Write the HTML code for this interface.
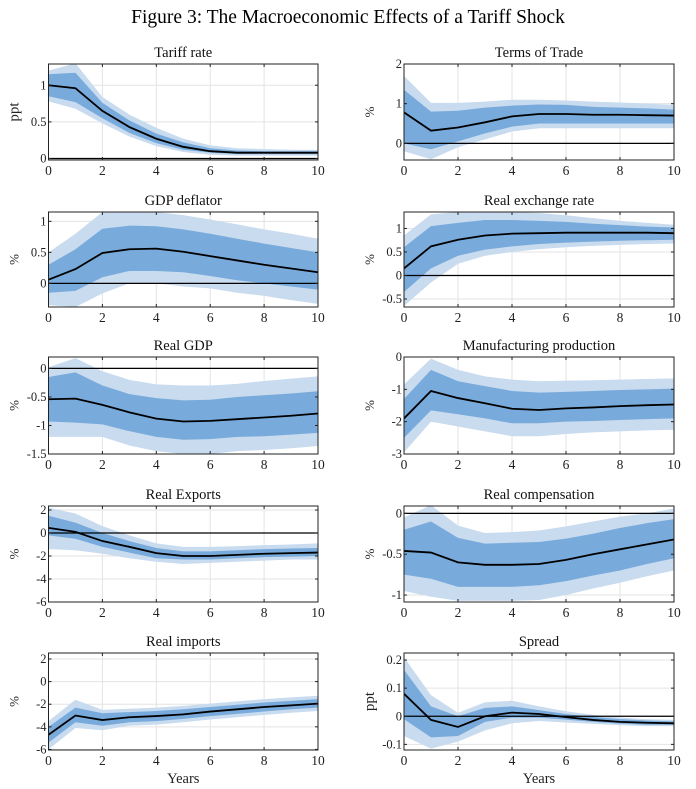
<!DOCTYPE html>
<html><head><meta charset="utf-8"><style>
body{margin:0;background:#fff;width:696px;height:789px;overflow:hidden}
svg{display:block;font-family:"Liberation Serif",serif}
</style></head><body>
<svg id="fig" width="696" height="789">
<text x="348" y="23" text-anchor="middle" font-size="19.5" fill="#000">Figure 3: The Macroeconomic Effects of a Tariff Shock</text>
</svg>
<script>
const years=[0,1,2,3,4,5,6,7,8,9,10];
const titles=["Tariff rate","Terms of Trade","GDP deflator","Real exchange rate","Real GDP","Manufacturing production","Real Exports","Real compensation","Real imports","Spread"];
const units=["ppt","%","%","%","%","%","%","%","%","ppt"];
const showZero=[true,true,true,true,true,true,true,true,false,true];
const yRanges=[[-0.02,1.29],[-0.42,2],[-0.38,1.15],[-0.67,1.35],[-1.5,0.2],[-3,0],[-6,2.35],[-1.085,0.09],[-6.05,2.53],[-0.12,0.225]];
const yTicks=[[0,0.5,1],[0,1,2],[0,0.5,1],[-0.5,0,0.5,1],[-1.5,-1,-0.5,0],[-3,-2,-1,0],[-6,-4,-2,0,2],[-1,-0.5,0],[-6,-4,-2,0,2],[-0.1,0,0.1,0.2]];
const yTickLabels=[["0","0.5","1"],["0","1","2"],["0","0.5","1"],["-0.5","0","0.5","1"],["-1.5","-1","-0.5","0"],["-3","-2","-1","0"],["-6","-4","-2","0","2"],["-1","-0.5","0"],["-6","-4","-2","0","2"],["-0.1","0","0.1","0.2"]];
const median=[
[1,0.96,0.65,0.43,0.27,0.16,0.1,0.08,0.08,0.08,0.08],
[0.78,0.32,0.4,0.53,0.68,0.74,0.74,0.72,0.72,0.71,0.7],
[0.06,0.23,0.49,0.55,0.56,0.51,0.44,0.37,0.3,0.24,0.18],
[0.15,0.62,0.76,0.85,0.89,0.9,0.91,0.91,0.91,0.91,0.9],
[-0.54,-0.53,-0.64,-0.77,-0.88,-0.93,-0.92,-0.89,-0.86,-0.83,-0.79],
[-1.9,-1.05,-1.27,-1.43,-1.6,-1.64,-1.59,-1.56,-1.52,-1.49,-1.47],
[0.45,0.1,-0.7,-1.2,-1.75,-2.0,-2.0,-1.9,-1.8,-1.75,-1.7],
[-0.46,-0.48,-0.6,-0.63,-0.63,-0.62,-0.57,-0.5,-0.44,-0.38,-0.32],
[-4.7,-3.0,-3.4,-3.15,-3.05,-2.9,-2.65,-2.45,-2.25,-2.1,-1.95],
[0.08,-0.013,-0.038,0,0.013,0.008,-0.003,-0.013,-0.02,-0.023,-0.025]];
const innerLo=[
[0.85,0.77,0.55,0.35,0.21,0.12,0.08,0.06,0.06,0.06,0.06],
[0,-0.15,0.05,0.25,0.42,0.5,0.5,0.5,0.5,0.5,0.5],
[-0.15,-0.12,0.1,0.2,0.2,0.18,0.12,0.05,0,-0.05,-0.1],
[-0.35,0.15,0.42,0.55,0.62,0.67,0.7,0.72,0.74,0.75,0.76],
[-0.93,-0.95,-0.98,-1.1,-1.2,-1.25,-1.24,-1.2,-1.19,-1.16,-1.13],
[-2.5,-1.65,-1.77,-1.9,-2.05,-2.05,-2.0,-1.98,-1.95,-1.92,-1.9],
[-0.2,-0.5,-1.2,-1.7,-2.2,-2.3,-2.3,-2.2,-2.1,-2.05,-2.0],
[-0.75,-0.8,-0.9,-0.9,-0.9,-0.88,-0.83,-0.76,-0.7,-0.62,-0.55],
[-5.4,-3.6,-3.9,-3.6,-3.5,-3.3,-3.05,-2.85,-2.65,-2.45,-2.3],
[-0.01,-0.075,-0.07,-0.02,-0.005,-0.005,-0.012,-0.02,-0.026,-0.03,-0.03]];
const innerHi=[
[1.15,1.17,0.76,0.52,0.34,0.22,0.14,0.11,0.1,0.1,0.1],
[1.35,0.8,0.82,0.9,0.95,0.98,0.97,0.92,0.9,0.88,0.85],
[0.3,0.55,0.88,0.93,0.92,0.87,0.8,0.72,0.64,0.57,0.5],
[0.6,1.05,1.12,1.18,1.18,1.16,1.14,1.1,1.07,1.04,1.02],
[-0.15,-0.07,-0.3,-0.45,-0.52,-0.56,-0.55,-0.5,-0.47,-0.44,-0.4],
[-1.3,-0.4,-0.75,-0.9,-1.05,-1.1,-1.08,-1.05,-1.02,-1.0,-0.98],
[1.5,0.9,0,-0.7,-1.3,-1.6,-1.6,-1.5,-1.4,-1.35,-1.3],
[-0.2,-0.1,-0.3,-0.37,-0.36,-0.35,-0.31,-0.25,-0.18,-0.12,-0.07],
[-4.0,-2.3,-2.8,-2.7,-2.6,-2.45,-2.25,-2.05,-1.85,-1.7,-1.55],
[0.165,0.035,0,0.03,0.035,0.022,0.008,-0.002,-0.01,-0.015,-0.018]];
const outerLo=[
[0.78,0.68,0.48,0.3,0.17,0.09,0.05,0.04,0.04,0.04,0.04],
[-0.2,-0.4,-0.1,0.1,0.3,0.38,0.38,0.38,0.38,0.38,0.38],
[-0.35,-0.38,-0.16,0,0,-0.05,-0.08,-0.15,-0.2,-0.27,-0.33],
[-0.65,-0.15,0.25,0.42,0.5,0.56,0.6,0.63,0.65,0.67,0.68],
[-1.2,-1.2,-1.2,-1.35,-1.45,-1.5,-1.5,-1.45,-1.43,-1.4,-1.36],
[-2.95,-2.0,-2.15,-2.3,-2.45,-2.45,-2.38,-2.33,-2.3,-2.27,-2.25],
[-1.4,-1.5,-1.8,-2.2,-2.5,-2.7,-2.6,-2.5,-2.4,-2.3,-2.3],
[-0.95,-1.02,-1.07,-1.07,-1.07,-1.06,-1.0,-0.92,-0.85,-0.77,-0.7],
[-6,-4.1,-4.3,-3.9,-3.8,-3.6,-3.35,-3.15,-2.95,-2.75,-2.6],
[-0.07,-0.115,-0.09,-0.05,-0.025,-0.017,-0.022,-0.027,-0.032,-0.035,-0.035]];
const outerHi=[
[1.2,1.3,0.84,0.6,0.42,0.27,0.18,0.14,0.13,0.12,0.12],
[1.7,1.02,1.02,1.05,1.1,1.1,1.08,1.05,1.03,1.0,0.97],
[0.5,0.8,1.15,1.15,1.15,1.1,1.03,0.95,0.87,0.8,0.72],
[0.85,1.3,1.35,1.35,1.35,1.33,1.28,1.22,1.16,1.12,1.08],
[0.02,0.18,-0.05,-0.2,-0.28,-0.3,-0.3,-0.27,-0.22,-0.18,-0.14],
[-0.85,-0.05,-0.4,-0.6,-0.7,-0.75,-0.73,-0.72,-0.7,-0.68,-0.66],
[2.2,1.7,0.6,-0.2,-0.9,-1.2,-1.2,-1.15,-1.05,-1.0,-0.9],
[-0.05,0.1,-0.15,-0.24,-0.23,-0.21,-0.16,-0.1,-0.04,0,0.06],
[-3.5,-1.6,-2.5,-2.4,-2.3,-2.15,-1.95,-1.75,-1.55,-1.4,-1.25],
[0.21,0.075,0.012,0.05,0.055,0.035,0.018,0.005,-0.005,-0.01,-0.013]];
const xTicks=[0,2,4,6,8,10];

const NS="http://www.w3.org/2000/svg";
const svg=document.getElementById('fig');
function mk(tag,attrs,parent){const e=document.createElementNS(NS,tag);for(const k in attrs)e.setAttribute(k,attrs[k]);(parent||svg).appendChild(e);return e;}
const colX=[[48.5,318],[404,674]];
const rowY=[[64,160],[212,307],[357,454],[506,602],[653,750]];
titles.forEach((t,i)=>{
  const r=Math.floor(i/2),c=i%2;
  const [x0,x1]=colX[c],[y0,y1]=rowY[r];
  const [ymin,ymax]=yRanges[i];
  const g=mk('g',{});
  
  
  const cid='clip'+i;
  const cp=mk('clipPath',{id:cid},g);mk('rect',{x:x0,y:y0,width:x1-x0,height:y1-y0},cp);
  const X=v=>x0+(v-0)/(10-0)*(x1-x0);
  const Y=v=>y1-(v-ymin)/(ymax-ymin)*(y1-y0);
  xTicks.forEach(v=>{const l=mk('line',{x1:X(v),x2:X(v),y1:y0,y2:y1,stroke:'#e3e3e3','stroke-width':1},g);});
  yTicks[i].forEach(v=>{const l=mk('line',{x1:x0,x2:x1,y1:Y(v),y2:Y(v),stroke:'#e3e3e3','stroke-width':1},g);});
  const cg=mk('g',{'clip-path':'url(#'+cid+')'},g);
  function band(lo,hi,fill,name){
    let d='M'+years.map(k=>X(k)+','+Y(hi[k])).join('L')+'L'+years.slice().reverse().map(k=>X(k)+','+Y(lo[k])).join('L')+'Z';
    const p=mk('path',{d:d,fill:fill},cg);
    
    
  }
  band(outerLo[i],outerHi[i],'#c8dbef','outer-band');
  band(innerLo[i],innerHi[i],'#78aadb','inner-band');
  if(showZero[i]&&ymin<0&&ymax>0){const z=mk('line',{x1:x0,x2:x1,y1:Y(0),y2:Y(0),stroke:'#000','stroke-width':1.2},cg);}
  const ml=mk('polyline',{points:years.map(k=>X(k)+','+Y(median[i][k])).join(' '),fill:'none',stroke:'#000','stroke-width':1.8},cg);
  
  
  const fr=mk('rect',{x:x0,y:y0,width:x1-x0,height:y1-y0,fill:'none',stroke:'#222','stroke-width':1},g);
  
  xTicks.forEach(v=>{
    mk('line',{x1:X(v),x2:X(v),y1:y1,y2:y1-3,stroke:'#222'},g);
    mk('line',{x1:X(v),x2:X(v),y1:y0,y2:y0+3,stroke:'#222'},g);
    const tx=mk('text',{x:X(v),y:y1+15,'text-anchor':'middle','font-size':13.5,fill:'#222'},g);tx.textContent=v;
    
  });
  yTicks[i].forEach((v,j)=>{
    mk('line',{x1:x0,x2:x0+3,y1:Y(v),y2:Y(v),stroke:'#222'},g);
    mk('line',{x1:x1,x2:x1-3,y1:Y(v),y2:Y(v),stroke:'#222'},g);
    const tx=mk('text',{x:x0-2,y:Y(v)+4,'text-anchor':'end','font-size':12.5,fill:'#222'},g);tx.textContent=yTickLabels[i][j];
    
  });
  const tt=mk('text',{x:(x0+x1)/2,y:y0-7,'text-anchor':'middle','font-size':14.5,fill:'#111'},g);tt.textContent=t;
  
  const lx=x0-30, ly=(y0+y1)/2;
  const yl=mk('text',{x:lx,y:ly,'text-anchor':'middle','font-size':units[i]==='ppt'?15:13,fill:'#222',transform:'rotate(-90 '+lx+' '+ly+')'},g);yl.textContent=units[i];
  
  if(r===4){const xl=mk('text',{x:(x0+x1)/2,y:783,'text-anchor':'middle','font-size':14.5,fill:'#222'},g);xl.textContent='Years';
    }
});
</script>
</body></html>
